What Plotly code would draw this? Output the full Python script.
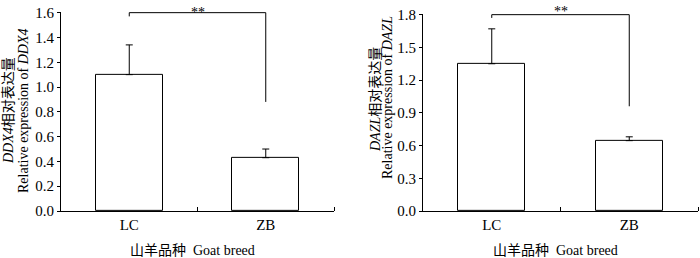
import plotly.graph_objects as go

categories = ["LC", "ZB"]
ddx4_mean = [1.10, 0.43]
ddx4_err = [0.24, 0.07]
dazl_mean = [1.35, 0.645]
dazl_err = [0.32, 0.035]
# significance bracket heights: left leg bottom, top, top, right leg bottom
ddx4_bracket = [1.57, 1.60, 1.60, 0.88]
dazl_bracket = [1.77, 1.80, 1.80, 0.96]
ddx4_ticks = [0.0, 0.2, 0.4, 0.6, 0.8, 1.0, 1.2, 1.4, 1.6]
dazl_ticks = [0.0, 0.3, 0.6, 0.9, 1.2, 1.5, 1.8]

FONT = "Liberation Serif, Times New Roman, Noto Sans CJK SC, serif"
pos = list(range(len(categories)))
bx = [pos[0], pos[0], pos[1], pos[1]]

fig = go.Figure()

def add_panel(mean, err, bracket, xa, ya):
    fig.add_trace(go.Bar(
        x=pos, y=mean, width=0.49, xaxis=xa, yaxis=ya,
        marker=dict(color="white", line=dict(color="black", width=1)),
        error_y=dict(type="data", symmetric=False, array=err,
                     arrayminus=[0] * len(err), color="black",
                     thickness=1, width=3.5),
        showlegend=False, hoverinfo="skip"))
    fig.add_trace(go.Scatter(
        x=bx, y=bracket, mode="lines", xaxis=xa, yaxis=ya,
        line=dict(color="black", width=1), showlegend=False,
        hoverinfo="skip", cliponaxis=False))

add_panel(ddx4_mean, ddx4_err, ddx4_bracket, "x", "y")
add_panel(dazl_mean, dazl_err, dazl_bracket, "x2", "y2")

W, H = 700, 258
def px_x(p):
    return p / W
def px_y(p):
    return (H - p) / H

xcommon = dict(range=[-0.5, 1.5], tickvals=pos, ticktext=categories,
               ticks="", showline=True, linecolor="black", linewidth=1,
               showgrid=False, zeroline=False, fixedrange=True,
               automargin=False,
               tickfont=dict(family=FONT, size=15, color="black"),
               minor=dict(tickvals=[0.5, 1.5], ticks="inside", ticklen=4,
                          tickcolor="black", tickwidth=1, showgrid=False))
ycommon = dict(ticks="outside", ticklen=3, tickcolor="black", tickwidth=1,
               showline=True, linecolor="black", linewidth=1,
               showgrid=False, zeroline=False, tickformat=".1f",
               automargin=False, fixedrange=True,
               tickfont=dict(family=FONT, size=15, color="black"))

fig.update_layout(
    width=W, height=H,
    margin=dict(l=0, r=0, t=0, b=0, pad=0),
    paper_bgcolor="white", plot_bgcolor="white",
    bargap=0,
    xaxis=dict(domain=[px_x(61), px_x(334)], anchor="y", **xcommon),
    yaxis=dict(domain=[px_y(211), px_y(12) + 0.0005], anchor="x",
               range=[0, 1.6 * 1.004], tickvals=ddx4_ticks, **ycommon),
    xaxis2=dict(domain=[px_x(423), px_x(698)], anchor="y2", **xcommon),
    yaxis2=dict(domain=[px_y(211), px_y(14) + 0.0005], anchor="x2",
                range=[0, 1.8 * 1.004], tickvals=dazl_ticks, **ycommon),
)

ann_font = dict(family=FONT, size=14, color="black")
def ann(x, y, text, angle=0, **kw):
    d = dict(x=px_x(x), y=px_y(y), xref="paper", yref="paper", text=text,
             textangle=angle, showarrow=False, font=ann_font,
             xanchor="center", yanchor="middle")
    d.update(kw)
    return d

anns = [
    # significance stars
    dict(x=0.5, y=ddx4_bracket[1], xref="x", yref="y", text="**",
         showarrow=False, yanchor="bottom", xanchor="center", yshift=-9,
         font=ann_font),
    dict(x=0.5, y=dazl_bracket[1], xref="x2", yref="y2", text="**",
         showarrow=False, yanchor="bottom", xanchor="center", yshift=-6,
         font=ann_font),
    # y titles
    ann(8, 111, "<i>DDX4</i>相对表达量", -90),
    ann(23, 111, "Relative expression of <i>DDX4</i>", -90),
    ann(375, 100, "<i>DAZL</i>相对表达量", -90),
    ann(387, 98, "Relative expression of <i>DAZL</i>", -90),
    # x titles
    ann(192, 250, "山羊品种  Goat breed"),
    ann(555, 250, "山羊品种  Goat breed"),
]
fig.update_layout(annotations=anns)

fig.write_html("out.html", config={"displayModeBar": False},
               post_script="document.body.style.margin='0';document.body.style.padding='0';")
